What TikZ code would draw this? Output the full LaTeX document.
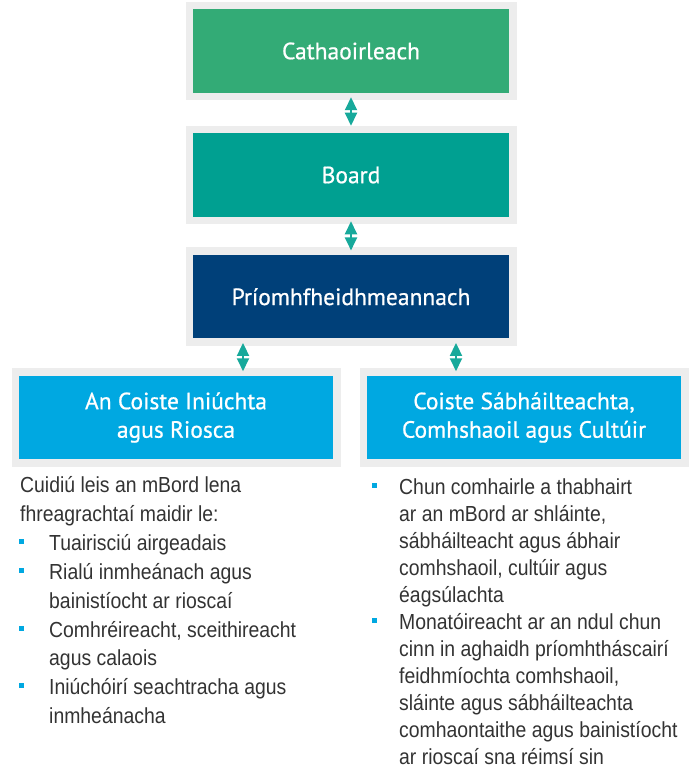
\documentclass[tikz,border=0pt]{standalone}
\usepackage{fontspec}
\setmainfont{Liberation Sans}[FakeStretch=0.89]
\newfontfamily\boxfont{PT Sans}[FakeBold=0.7]
\usetikzlibrary{arrows.meta}
\usetikzlibrary{positioning}

\definecolor{chairgreen}{HTML}{33AB76}
\definecolor{boardteal}{HTML}{00A091}
\definecolor{ceonavy}{HTML}{004079}
\definecolor{commblue}{HTML}{00A8E1}
\definecolor{framegrey}{HTML}{EDEDED}
\definecolor{linkteal}{HTML}{17A99B}
\definecolor{bodygrey}{HTML}{333333}

\begin{document}
\begin{tikzpicture}[
    x=1pt, y=-1pt,
    box/.style={draw=framegrey, line width=7.5pt, minimum width=323.5pt, minimum height=91pt,
        inner sep=0pt, text=white, align=center, font=\boxfont\fontsize{23.5}{28.5}\selectfont},
    committee/.style={box, minimum width=321.5pt},
    para/.style={anchor=base west, inner sep=0pt, align=left, text=bodygrey},
    leftcol/.style={para, font=\fontsize{21.8}{28.8}\selectfont},
    rightcol/.style={para, font=\fontsize{21.8}{27}\selectfont},
    sq/.style={fill=commblue, minimum size=5pt, inner sep=0pt},
    link/.style={linkteal, line width=2pt, shorten <=-3pt, shorten >=-3pt,
        {Triangle[length=13pt, width=12pt]}-{Triangle[length=13pt, width=12pt]}}
]
\useasboundingbox (0,0) rectangle (696,773);

% --- Chain of command ---
\node[box, fill=chairgreen] (chair) at (351,51) {Cathaoirleach};
\node[box, fill=boardteal] (board) at (351,175) {Board};
\node[box, fill=ceonavy] (ceo) at (351,296.7) {Príomhfheidhmeannach};

% --- Committees ---
\node[committee, fill=commblue] (audit) at (176,417.5) {An Coiste Iniúchta\\agus Riosca};
\node[committee, fill=commblue] (safety) at (524,417.5) {Coiste Sábháilteachta,\\Comhshaoil agus Cultúir};

% --- Links ---
\draw[link, shorten >=0pt] (chair.south) -- (board.north);
\draw[link] (board.south) -- (ceo.north);
\draw[link] ([xshift=-108pt]ceo.south) -- ([xshift=67pt]audit.north);
\draw[link] ([xshift=105pt]ceo.south) -- ([xshift=-68pt]safety.north);

% --- Audit and risk remit (anchored on last baseline) ---
\node[leftcol] (intro) at (20,521.5) {Cuidiú leis an mBord lena\\fhreagrachtaí maidir le:};
\node[leftcol] (l1) at (49,550.7) {Tuairisciú airgeadais};
\node[leftcol] (l2) at (49,608.1) {Rialú inmheánach agus\\bainistíocht ar rioscaí};
\node[leftcol] (l3) at (49,665.8) {Comhréireacht, sceithireacht\\agus calaois};
\node[leftcol] (l4) at (49,723.3) {Iniúchóirí seachtracha agus\\inmheánacha};
\foreach \y [count=\i] in {550.7,579.3,637,694.5}
    \node[sq] (lb\i) at (21,\y-9) {};

% --- Safety and culture remit ---
\node[rightcol] (r1) at (399,602) {Chun comhairle a thabhairt\\ar an mBord ar shláinte,\\sábháilteacht agus ábhair\\comhshaoil, cultúir agus\\éagsúlachta};
\node[rightcol] (r2) at (399,764) {Monatóireacht ar an ndul chun\\cinn in aghaidh príomhtháscairí\\feidhmíochta comhshaoil,\\sláinte agus sábháilteachta\\comhaontaithe agus bainistíocht\\ar rioscaí sna réimsí sin};
\foreach \y [count=\i] in {494,629}
    \node[sq] (rb\i) at (374,\y-9) {};

\end{tikzpicture}
\end{document}
